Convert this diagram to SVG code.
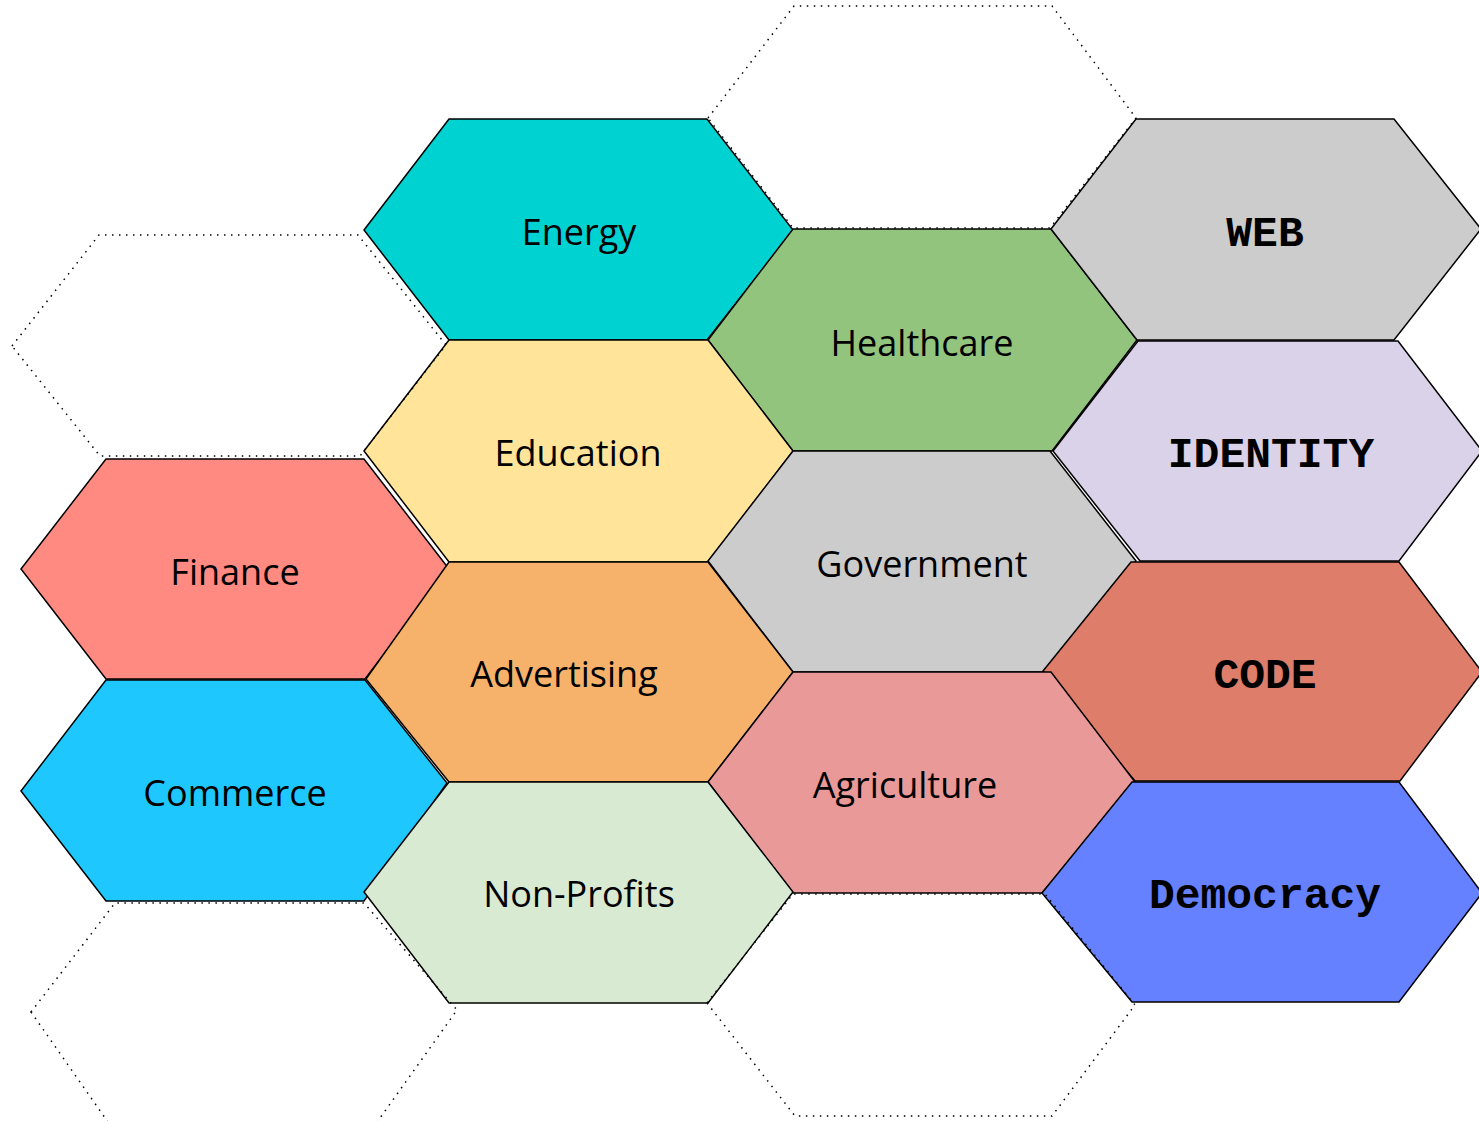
<svg xmlns="http://www.w3.org/2000/svg" width="1479" height="1121" viewBox="0 0 1479 1121">
<style>
.hex{stroke:#000;stroke-width:1.5;stroke-linejoin:miter}
.dot{fill:none;stroke:#000;stroke-width:1.5;stroke-dasharray:1.5 5.5}
.lbl{font-family:"Open Sans","Noto Sans",sans-serif;font-size:36px;fill:#000;text-anchor:middle}
.mono{font-family:"Liberation Mono","Courier New",monospace;font-weight:bold;font-size:43px;fill:#000;text-anchor:middle}
</style>
<rect x="0" y="0" width="1479" height="1121" fill="#fff"/>
<g id="nodes">
<g id="energy"><polygon class="hex" fill="#00D2D2" points="364,230 449,119 707,119 793,230 707,340 449,340"/><text class="lbl" x="579" y="245">Energy</text></g>
<g id="healthcare"><polygon class="hex" fill="#93C47D" points="708,340 793,229 1051,229 1137,340 1052,451 793,451"/><text class="lbl" x="922" y="356">Healthcare</text></g>
<g id="web"><polygon class="hex" fill="#CCCCCC" points="1051,229 1136,119 1394,119 1481,229 1394,340 1137,340"/><text class="mono" x="1265" y="246">WEB</text></g>
<g id="education"><polygon class="hex" fill="#FFE499" points="364,451 449,340 708,340 793,451 708,562 449,562"/><text class="lbl" x="578" y="466">Education</text></g>
<g id="identity"><polygon class="hex" fill="#D9D2E9" points="1053,451 1138,341 1398,341 1482,451 1399,561 1140,561"/><text class="mono" x="1271" y="467">IDENTITY</text></g>
<g id="government"><polygon class="hex" fill="#CCCCCC" points="708,561 793,451 1050,451 1136,561 1046,672 793,672"/><text class="lbl" x="922" y="577">Government</text></g>
<g id="finance"><polygon class="hex" fill="#FF8A82" points="21,569 106,459 364,459 449,569 365,679 106,679"/><text class="lbl" x="235" y="585">Finance</text></g>
<g id="advertising"><polygon class="hex" fill="#F6B26B" points="366,679 449,562 708,562 793,672 708,782 449,782"/><text class="lbl" x="564" y="687">Advertising</text></g>
<g id="code"><polygon class="hex" fill="#DE7D6A" points="1043,671 1131,562 1399,562 1482,672 1400,781 1135,781"/><text class="mono" x="1265" y="688">CODE</text></g>
<g id="commerce"><polygon class="hex" fill="#1EC8FE" points="21,791 106,680 365,680 447,783 364,901 106,901"/><text class="lbl" x="235" y="806">Commerce</text></g>
<g id="agriculture"><polygon class="hex" fill="#EA9999" points="708,782 793,672 1051,672 1135,782 1042,893 793,893"/><text class="lbl" x="905" y="798">Agriculture</text></g>
<g id="nonprofits"><polygon class="hex" fill="#D9EAD3" points="364,892 449,782 708,782 793,892 708,1003 449,1003"/><text class="lbl" x="579" y="907">Non-Profits</text></g>
<g id="democracy"><polygon class="hex" fill="#6681FF" points="1042,893 1132,782 1399,782 1482,893 1399,1002 1132,1002"/><text class="mono" x="1265" y="908">Democracy</text></g>
</g>
<g id="placeholders">
<polygon class="dot" points="708,118 794,6 1052,6 1136,118 1050,228 793,228"/>
<polygon class="dot" points="12,346 99,235 358,235 446,345 360,456 100,456"/>
<polygon class="dot" points="31,1012 115,903 364,903 457,1010 375,1125 110,1125"/>
<polygon class="dot" points="707,1003 793,894 1045,894 1135,1005 1052,1116 795,1116"/>
</g>
<g id="connectors"/>
</svg>
